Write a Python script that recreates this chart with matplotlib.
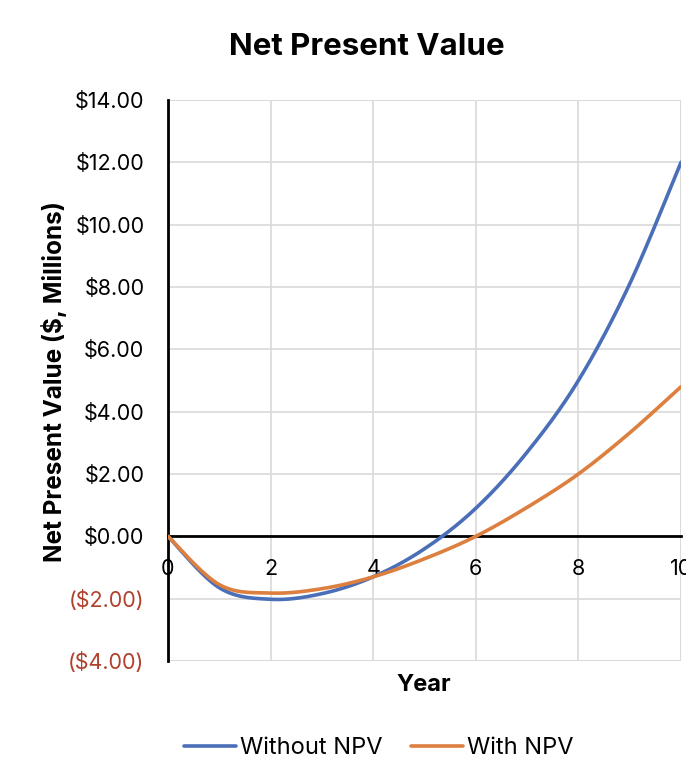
"""Net Present Value chart"""

import numpy as np
import matplotlib

matplotlib.use("Agg")
import matplotlib.pyplot as plt

plt.rcParams["font.family"] = ["Inter", "DejaVu Sans"]

# values
years = [0, 1, 2, 3, 4, 5, 6, 7, 8, 9, 10]
without_npv = [0.0, -1.65, -2.02, -1.84, -1.30, -0.40, 0.90, 2.70, 5.00, 8.10, 12.00]
with_npv = [0.0, -1.55, -1.82, -1.68, -1.30, -0.72, 0.00, 0.93, 2.00, 3.32, 4.80]

y_ticks = [14, 12, 10, 8, 6, 4, 2, 0, -2, -4]
y_tick_labels = ["$14.00", "$12.00", "$10.00", "$8.00", "$6.00", "$4.00",
                 "$2.00", "$0.00", "($2.00)", "($4.00)"]
x_ticks = [0, 2, 4, 6, 8, 10]

BLUE = "#4a6fb8"
ORANGE = "#dc7f3f"
NEG_RED = "#b0412e"
GRID = "#d9d9d9"


def smooth(xs, ys, n=30):
    """Catmull-Rom curve through the points, like a smoothed line in a spreadsheet."""
    p = np.column_stack([xs, ys]).astype(float)
    p = np.vstack([p[0], p, p[-1]])
    t = np.linspace(0, 1, n)[:, None]
    out = []
    for i in range(1, len(p) - 2):
        p0, p1, p2, p3 = p[i - 1], p[i], p[i + 1], p[i + 2]
        seg = 0.5 * (2 * p1 + (-p0 + p2) * t
                     + (2 * p0 - 5 * p1 + 4 * p2 - p3) * t ** 2
                     + (-p0 + 3 * p1 - 3 * p2 + p3) * t ** 3)
        out.append(seg if i == 1 else seg[1:])
    out = np.vstack(out)
    return out[:, 0], out[:, 1]


fig = plt.figure(figsize=(6.86, 7.64), dpi=100)
ax = fig.add_axes([168 / 686, 1 - 661 / 764, 513 / 686, 561 / 764])

ax.plot(*smooth(years, without_npv), color=BLUE, lw=2.6, label="Without NPV",
        solid_capstyle="round", zorder=3)
ax.plot(*smooth(years, with_npv), color=ORANGE, lw=2.6, label="With NPV",
        solid_capstyle="round", zorder=3)

ax.set_xlim(0, 10)
ax.set_ylim(-4, 14)
ax.set_xticks(x_ticks)
ax.set_yticks(y_ticks)
ax.set_yticklabels(y_tick_labels)
for lbl, v in zip(ax.get_yticklabels(), y_ticks):
    if v < 0:
        lbl.set_color(NEG_RED)

ax.grid(True, color=GRID, lw=1.2, zorder=0)
ax.set_axisbelow(True)
ax.spines["top"].set_visible(False)
ax.spines["right"].set_visible(False)
ax.spines["left"].set_linewidth(2)
ax.spines["bottom"].set_position(("data", 0))
ax.spines["bottom"].set_linewidth(2)
ax.spines["bottom"].set_zorder(2)
ax.tick_params(axis="both", length=0, labelsize=15.5)
ax.tick_params(axis="y", pad=17)
ax.tick_params(axis="x", pad=16)
for g in (-4, 14):
    ax.axhline(g, color=GRID, lw=1.2, zorder=0)
ax.axvline(10, color=GRID, lw=1.2, zorder=0)

fig.text(367 / 686, 1 - 47 / 764, "Net Present Value", ha="center", va="center",
         fontsize=22.5, fontweight="bold")
fig.text(54 / 686, 1 - 382 / 764, "Net Present Value ($, Millions)", ha="center",
         va="center", rotation=90, fontsize=17.5, fontweight="bold")
fig.text(424 / 686, 1 - 685 / 764, "Year", ha="center", va="center",
         fontsize=17, fontweight="bold")

fig.legend(loc="center", bbox_to_anchor=(379 / 686, 1 - 748 / 764), ncol=2,
           frameon=False, fontsize=17, handlelength=2.2, handletextpad=0.17,
           columnspacing=1.2)

fig.savefig("out.png", dpi=100)
